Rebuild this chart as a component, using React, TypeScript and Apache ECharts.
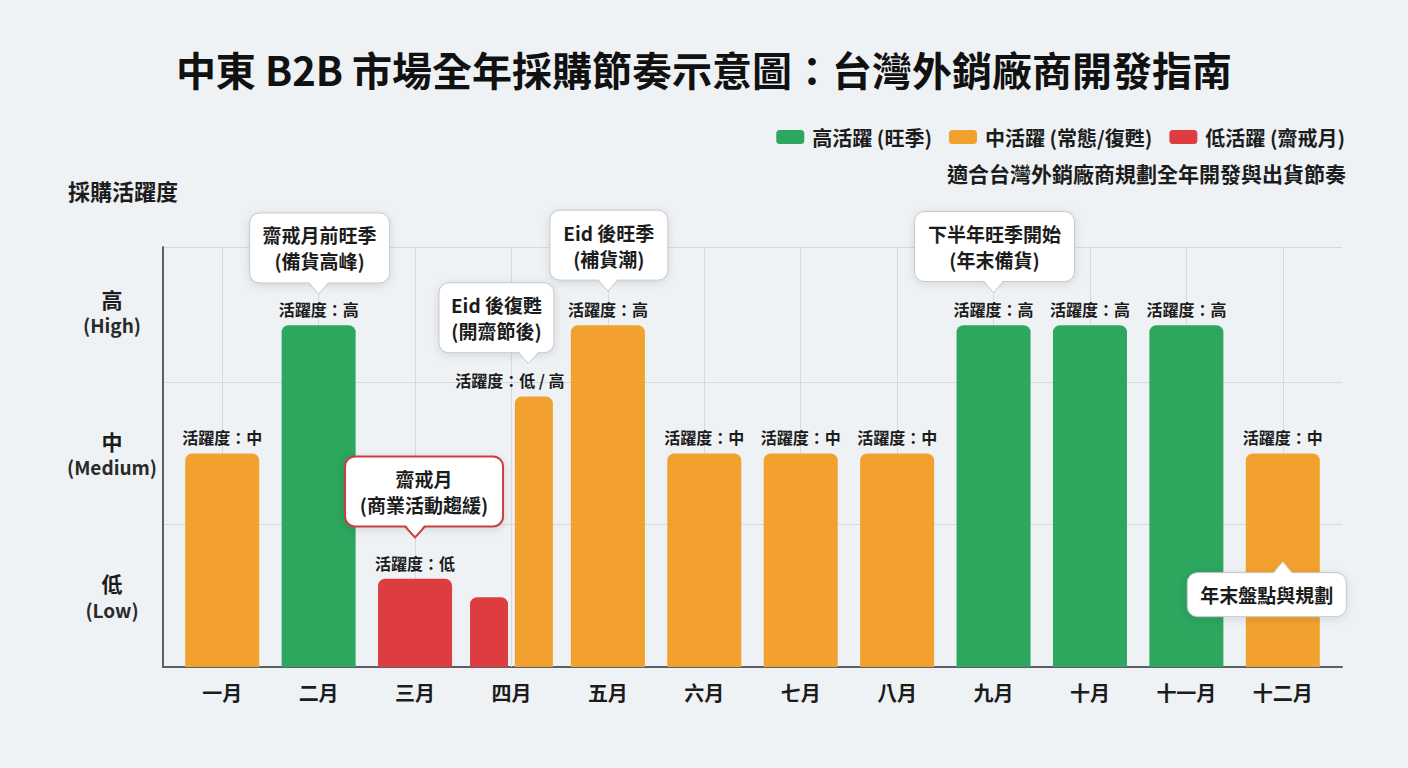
import React, { useEffect, useRef } from 'react';
import * as echarts from 'echarts';

// ---- data ----
const months = ['一月', '二月', '三月', '四月', '五月', '六月', '七月', '八月', '九月', '十月', '十一月', '十二月'];
// activity index: 高 ≈ 2.4, 中 ≈ 1.5, 低 ≈ 0.6 (axis bands: 低 0–1, 中 1–2, 高 2–3)
const highSeason = ['-', 2.4, '-', '-', '-', '-', '-', '-', 2.4, 2.4, 2.4, '-'];
const normalSeason = [1.5, '-', '-', '-', 2.4, 1.5, 1.5, 1.5, '-', '-', '-', 1.5];
const ramadanSeason = ['-', '-', 0.62, '-', '-', '-', '-', '-', '-', '-', '-', '-'];
// April is split: Ramadan tail, then the Eid recovery
const aprilLow = ['-', '-', '-', 0.49, '-', '-', '-', '-', '-', '-', '-', '-'];
const aprilRecovery = ['-', '-', '-', 1.9, '-', '-', '-', '-', '-', '-', '-', '-'];
const levelText = ['中', '高', '低', '低 / 高', '高', '中', '中', '中', '高', '高', '高', '中'];

const seriesNames = ['高活躍 (旺季)', '中活躍 (常態/復甦)', '低活躍 (齋戒月)'];
const yLevelLabels = [
  { value: 0.5, zh: '低', en: '(Low)' },
  { value: 1.5, zh: '中', en: '(Medium)' },
  { value: 2.5, zh: '高', en: '(High)' },
];

// callouts: month index, pointer tip level, text
const calloutMonth = [1, 2, 3, 4, 8, 11];
const calloutTip = [2.62, 0.91, 2.13, 2.64, 2.63, 0.74];
const calloutText = [
  '齋戒月前旺季\n(備貨高峰)',
  '齋戒月\n(商業活動趨緩)',
  'Eid 後復甦\n(開齋節後)',
  'Eid 後旺季\n(補貨潮)',
  '下半年旺季開始\n(年末備貨)',
  '年末盤點與規劃',
];
// callout layout (pixels)
const calloutTipDx = [0, 0, 17, 0, 0, 0];
const calloutBoxDx = [1, 9, -32, 1, 1, -16];
const calloutBoxW = [140, 158, 115, 118, 160, 159];
const calloutUp = [false, false, false, false, false, true];
const calloutAlert = [false, true, false, false, false, false];

const GREEN = '#2da65e';
const ORANGE = '#f2a12e';
const RED = '#dd3c41';
const FONT = "'Noto Sans CJK TC', 'Noto Sans', sans-serif";
const INK = '#1c1c1c';

const barLabel = {
  show: true,
  position: 'top',
  distance: 8,
  fontSize: 16,
  fontWeight: 'bold',
  color: INK,
  fontFamily: FONT,
  formatter: (p: any) => '活躍度：' + levelText[p.dataIndex],
};

function renderCallout(params: any, api: any) {
  const i = params.dataIndex;
  const pt = api.coord([api.value(0), api.value(1)]);
  const tipX = pt[0] + calloutTipDx[i];
  const tipY = pt[1];
  const text = calloutText[i];
  const lines = text.split('\n').length;
  const w = calloutBoxW[i];
  const h = lines === 2 ? 70 : 44;
  const ptrH = 11;
  const ptrHalf = 10;
  const up = calloutUp[i];
  const alert = calloutAlert[i];
  const stroke = alert ? '#c8403f' : '#c3c7cc';
  const lw = alert ? 2 : 1;
  const boxX = tipX + calloutBoxDx[i] - w / 2;
  const boxY = up ? tipY + ptrH : tipY - ptrH - h;
  const edgeY = up ? boxY : boxY + h;
  const coverY = up ? boxY + lw + 0.5 : boxY + h - lw - 0.5;
  return {
    type: 'group',
    children: [
      {
        type: 'rect',
        shape: { x: boxX, y: boxY, width: w, height: h, r: 10 },
        style: {
          fill: '#ffffff',
          stroke,
          lineWidth: lw,
          shadowBlur: 8,
          shadowOffsetY: 2,
          shadowColor: 'rgba(0,0,0,0.12)',
        },
      },
      {
        type: 'polygon',
        shape: { points: [[tipX - ptrHalf, coverY], [tipX + ptrHalf, coverY], [tipX, tipY]] },
        style: { fill: '#ffffff' },
      },
      {
        type: 'polyline',
        shape: { points: [[tipX - ptrHalf, edgeY], [tipX, tipY], [tipX + ptrHalf, edgeY]] },
        style: { fill: 'none', stroke, lineWidth: lw },
      },
      {
        type: 'text',
        style: {
          text,
          x: boxX + w / 2,
          y: boxY + h / 2,
          align: 'center',
          verticalAlign: 'middle',
          fontSize: 19,
          fontWeight: 'bold',
          fontFamily: FONT,
          lineHeight: 26,
          fill: INK,
        },
      },
    ],
  };
}

export default function App() {
  const ref = useRef<HTMLDivElement>(null);

  useEffect(() => {
    if (!ref.current) return;
    const chart = echarts.init(ref.current, null, { renderer: 'svg' });

    const option: any = {
      animation: false,
      backgroundColor: '#eef2f5',
      textStyle: { fontFamily: FONT },
      title: [
        {
          text: '中東 B2B 市場全年採購節奏示意圖：台灣外銷廠商開發指南',
          left: 'center',
          top: 44,
          textStyle: { fontSize: 40, fontWeight: 'bold', color: '#111111', fontFamily: FONT },
        },
        {
          text: '適合台灣外銷廠商規劃全年開發與出貨節奏',
          right: 57,
          top: 157,
          textStyle: { fontSize: 21, fontWeight: 'bold', color: INK, fontFamily: FONT },
        },
        {
          text: '採購活躍度',
          left: 63,
          top: 174,
          textStyle: { fontSize: 22, fontWeight: 'bold', color: INK, fontFamily: FONT },
        },
      ],
      legend: {
        data: seriesNames,
        right: 58,
        top: 122,
        icon: 'roundRect',
        itemWidth: 28,
        itemHeight: 14,
        itemGap: 17,
        textStyle: { fontSize: 20, fontWeight: 'bold', color: INK, fontFamily: FONT, padding: [0, 0, 0, 3] },
      },
      grid: [
        { left: 163, right: 66, top: 247, bottom: 101 },
        { left: 174, right: 77, top: 247, bottom: 101 },
      ],
      xAxis: [
        {
          type: 'value',
          gridIndex: 0,
          min: 0,
          max: 1,
          axisLine: { show: true, lineStyle: { color: '#5c6066', width: 2 } },
          axisTick: { show: false },
          axisLabel: { show: false },
          splitLine: { show: false },
        },
        {
          type: 'category',
          gridIndex: 1,
          data: months,
          axisLine: { show: false },
          axisTick: { show: false },
          axisLabel: { fontSize: 20, fontWeight: 'bold', color: INK, margin: 15, fontFamily: FONT },
          splitLine: { show: false },
        },
        {
          type: 'category',
          gridIndex: 1,
          data: months,
          show: false,
        },
      ],
      yAxis: [
        {
          type: 'value',
          gridIndex: 0,
          min: 0,
          max: 2.95,
          interval: 1,
          axisLine: { show: true, lineStyle: { color: '#5c6066', width: 2 } },
          axisTick: { show: false },
          axisLabel: { show: false },
          splitLine: { show: true, lineStyle: { color: '#d5d9de', width: 1 } },
        },
        {
          type: 'value',
          gridIndex: 1,
          min: 0,
          max: 2.95,
          interval: 0.5,
          axisLine: { show: false },
          axisTick: { show: false },
          splitLine: { show: false },
          axisLabel: {
            margin: 62,
            align: 'center',
            formatter: (v: number) => {
              const hit = yLevelLabels.find((l) => Math.abs(l.value - v) < 1e-6);
              return hit ? `{a|${hit.zh}}\n{b|${hit.en}}` : '';
            },
            rich: {
              a: { fontSize: 21, fontWeight: 'bold', color: INK, lineHeight: 27, fontFamily: FONT, align: 'center' },
              b: { fontSize: 19, fontWeight: 'bold', color: '#2a2a2a', lineHeight: 25, fontFamily: FONT, align: 'center' },
            },
          },
        },
      ],
      series: [
        {
          // vertical guide lines at each month, kept behind the bars
          type: 'line',
          name: 'guides',
          xAxisIndex: 1,
          yAxisIndex: 1,
          data: [],
          z: 1,
          silent: true,
          markLine: {
            z: 1,
            silent: true,
            symbol: 'none',
            label: { show: false },
            lineStyle: { color: '#d5d9de', width: 1, type: 'solid' },
            data: months.map((m) => ({ xAxis: m })),
          },
        },
        {
          type: 'bar',
          name: seriesNames[0],
          xAxisIndex: 1,
          yAxisIndex: 1,
          stack: 'month',
          barWidth: 74,
          z: 3,
          data: highSeason,
          itemStyle: { color: GREEN, borderRadius: [7, 7, 0, 0] },
          label: barLabel,
        },
        {
          type: 'bar',
          name: seriesNames[1],
          xAxisIndex: 1,
          yAxisIndex: 1,
          stack: 'month',
          barWidth: 74,
          z: 3,
          data: normalSeason,
          itemStyle: { color: ORANGE, borderRadius: [7, 7, 0, 0] },
          label: barLabel,
        },
        {
          type: 'bar',
          name: seriesNames[2],
          xAxisIndex: 1,
          yAxisIndex: 1,
          stack: 'month',
          barWidth: 74,
          z: 3,
          data: ramadanSeason,
          itemStyle: { color: RED, borderRadius: [7, 7, 0, 0] },
          label: barLabel,
        },
        {
          type: 'bar',
          name: seriesNames[2],
          xAxisIndex: 2,
          yAxisIndex: 1,
          barWidth: 38,
          barGap: '18%',
          z: 3,
          data: aprilLow,
          itemStyle: { color: RED, borderRadius: [7, 7, 0, 0] },
        },
        {
          type: 'bar',
          name: seriesNames[1],
          xAxisIndex: 2,
          yAxisIndex: 1,
          barWidth: 38,
          barGap: '18%',
          z: 3,
          data: aprilRecovery,
          itemStyle: { color: ORANGE, borderRadius: [7, 7, 0, 0] },
          label: { ...barLabel, offset: [-24, 0] },
        },
        {
          type: 'custom',
          name: 'callouts',
          xAxisIndex: 1,
          yAxisIndex: 1,
          clip: false,
          silent: true,
          z: 10,
          data: calloutMonth.map((m, i) => [m, calloutTip[i]]),
          renderItem: renderCallout,
        },
      ],
    };

    chart.setOption(option);
    return () => chart.dispose();
  }, []);

  return (
    <div
      ref={ref}
      style={{ position: 'fixed', left: 0, top: 0, width: 1408, height: 768 }}
    />
  );
}
